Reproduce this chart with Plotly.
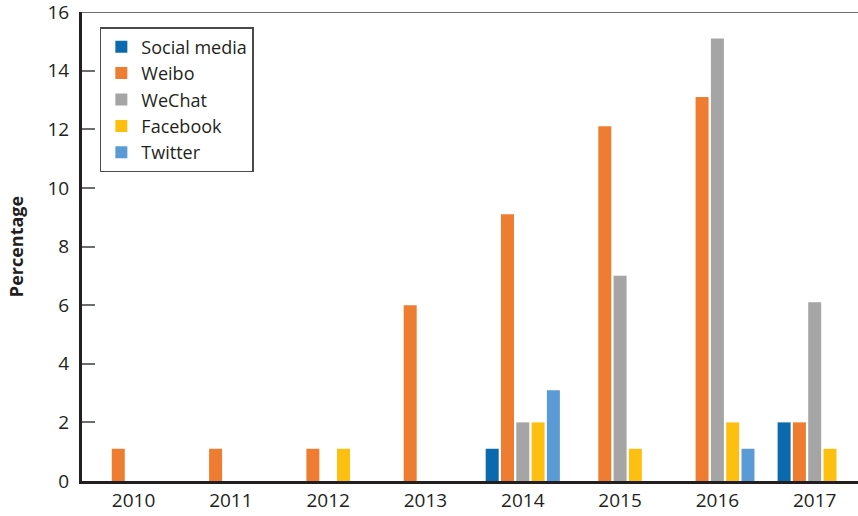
import plotly.graph_objects as go

years = ["2010", "2011", "2012", "2013", "2014", "2015", "2016", "2017"]
social_media = [None, None, None, None, 1.1, None, None, 2.0]
weibo = [1.1, 1.1, 1.1, 6.0, 9.1, 12.1, 13.1, 2.0]
wechat = [None, None, None, None, 2.0, 7.0, 15.1, 6.1]
facebook = [None, None, 1.1, None, 2.0, 1.1, 2.0, 1.1]
twitter = [None, None, None, None, 3.1, None, 1.1, None]

series = [
    ("Social media", social_media, "#0b6aad"),
    ("Weibo", weibo, "#ee7d31"),
    ("WeChat", wechat, "#a5a5a5"),
    ("Facebook", facebook, "#fdc010"),
    ("Twitter", twitter, "#5b9bd5"),
]

fig = go.Figure()
for name, vals, color in series:
    fig.add_trace(go.Bar(name=name, x=years, y=vals, marker=dict(color=color, line=dict(width=0))))

font_family = "Open Sans, Noto Sans, sans-serif"

fig.update_layout(
    width=858, height=516,
    barmode="group", bargap=0.214, bargroupgap=0.15,
    plot_bgcolor="white", paper_bgcolor="white",
    margin=dict(l=82, r=0, t=12, b=35),
    font=dict(family=font_family, color="#231f20", size=19),
    showlegend=True,
    legend=dict(
        x=0.023, y=0.968, xanchor="left", yanchor="top",
        bordercolor="#4a4a4a", borderwidth=1.5, bgcolor="white",
        font=dict(size=18, color="#231f20"),
        tracegroupgap=0, itemwidth=30,
    ),
    xaxis=dict(
        type="category", range=[-0.53, 7.445],
        showline=True, linecolor="#231f20", linewidth=3,
        ticks="", showgrid=False, tickfont=dict(size=19),
    ),
    yaxis=dict(
        range=[0, 16], dtick=2, tick0=0,
        showline=True, linecolor="#231f20", linewidth=3,
        ticks="inside", ticklen=13, tickwidth=1.5, tickcolor="#6d6d6d",
        showgrid=False, zeroline=False, ticklabeloverflow="allow",
        tickfont=dict(size=19), ticklabelstandoff=6,
        title=dict(text="<b>Percentage</b>", font=dict(size=18), standoff=20),
    ),
    shapes=[dict(type="line", xref="paper", yref="y", x0=0, x1=1, y0=16, y1=16,
                 line=dict(color="#6d6d6d", width=2))],
)

fig.write_html(
    "out.html",
    config={"displayModeBar": False},
    post_script="document.body.style.margin='0';document.body.style.overflow='hidden';",
)
